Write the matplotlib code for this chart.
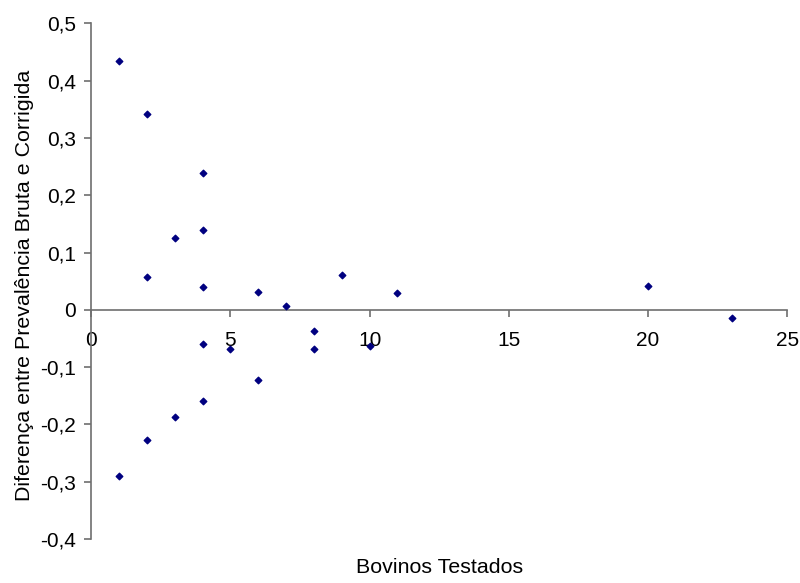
import matplotlib.pyplot as plt
from matplotlib.ticker import FuncFormatter, MultipleLocator

plt.rcParams['font.family'] = ['Liberation Sans', 'DejaVu Sans']

# bovinos testados (x) vs diferenca entre prevalencia bruta e corrigida (y)
bovinos = [1, 2, 4, 3, 4, 2, 4, 6, 9, 11,
           7, 4, 5, 8, 8, 10, 6, 4, 3, 2, 1,
           20, 23]
diferenca = [0.435, 0.341, 0.239, 0.125, 0.139, 0.057, 0.040, 0.031, 0.060, 0.029,
             0.0075, -0.059, -0.069, -0.037, -0.068, -0.063, -0.122, -0.159, -0.187, -0.227, -0.290,
             0.041, -0.015]

x_ticks = [0, 5, 10, 15, 20, 25]

axis_color = "#6e6e6e"
tick_size = 15
label_size = 15.4

fig = plt.figure(figsize=(8.0, 5.83), dpi=100)
ax = fig.add_axes([0.114, 0.0755, 0.87, 0.8845])

ax.scatter(bovinos, diferenca, marker="D", s=11, color="#000080", zorder=3)

ax.set_xlim(0, 25)
ax.set_ylim(-0.4, 0.5)
ax.set_xticks(x_ticks)
ax.yaxis.set_major_locator(MultipleLocator(0.1))

def comma_fmt(v, pos):
    if abs(v) < 1e-9:
        return "0"
    return f"{v:.1f}".replace(".", ",")

ax.yaxis.set_major_formatter(FuncFormatter(comma_fmt))
ax.xaxis.set_major_formatter(FuncFormatter(lambda v, p: f"{v:.0f}"))

for side in ("top", "right"):
    ax.spines[side].set_visible(False)
ax.spines["bottom"].set_position(("data", 0))
for side in ("left", "bottom"):
    ax.spines[side].set_color(axis_color)
    ax.spines[side].set_linewidth(1.2)

ax.tick_params(axis="y", direction="out", length=5, width=1.2, color=axis_color,
               pad=6, labelsize=tick_size, labelcolor="black")
ax.tick_params(axis="x", direction="out", length=5, width=1.2, color=axis_color,
               pad=10, labelsize=tick_size, labelcolor="black")

fig.text(0.55, 0.018, "Bovinos Testados", ha="center", va="baseline", fontsize=label_size)
fig.text(0.031, 0.510, "Diferença entre Prevalência Bruta e Corrigida",
         ha="center", va="center", rotation=90, fontsize=label_size)

fig.savefig("out.png", dpi=100)
